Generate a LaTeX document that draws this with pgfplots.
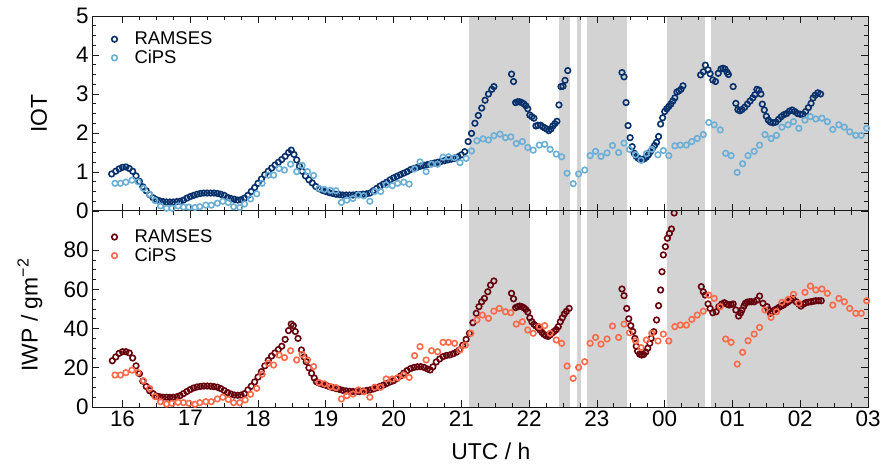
\documentclass[border=0pt]{standalone}
\usepackage{fontspec}
\setmainfont{Liberation Sans}
\usepackage{pgfplots}
\pgfplotsset{compat=1.18}
\definecolor{ramsesblue}{RGB}{8,48,107}
\definecolor{cipsblue}{RGB}{107,174,214}
\definecolor{ramsesred}{RGB}{103,0,13}
\definecolor{cipsred}{RGB}{251,106,74}
\definecolor{shade}{RGB}{211,211,211}
\newcommand\shades[1]{%
\addplot[fill=shade, draw=none, forget plot] coordinates {(21.11,0)(22.02,0)(22.02,#1)(21.11,#1)} -- cycle;
\addplot[fill=shade, draw=none, forget plot] coordinates {(22.44,0)(22.61,0)(22.61,#1)(22.44,#1)} -- cycle;
\addplot[fill=shade, draw=none, forget plot] coordinates {(22.70,0)(22.77,0)(22.77,#1)(22.70,#1)} -- cycle;
\addplot[fill=shade, draw=none, forget plot] coordinates {(22.86,0)(23.44,0)(23.44,#1)(22.86,#1)} -- cycle;
\addplot[fill=shade, draw=none, forget plot] coordinates {(24.03,0)(24.60,0)(24.60,#1)(24.03,#1)} -- cycle;
\addplot[fill=shade, draw=none, forget plot] coordinates {(24.69,0)(27.00,0)(27.00,#1)(24.69,#1)} -- cycle;
}
\pgfplotsset{
  myaxis/.style={
    scale only axis, width=776bp, xmin=15.55, xmax=27,
    xtick={16,...,27}, minor x tick num=3, minor y tick num=3,
    tick align=inside, major tick length=7bp, minor tick length=4bp,
    axis line style={line width=1pt, black!90},
    every tick/.style={black!90, line width=0.8pt},
    axis on top,
    tick label style={font=\fontsize{22.5}{25}\selectfont},
    label style={font=\fontsize{23}{26}\selectfont},
    /pgf/number format/assume math mode=true,
    legend style={draw=none, fill=none, font=\fontsize{18.5}{21}\selectfont, row sep=0bp, inner sep=0bp,
      nodes={inner sep=2bp}},
    legend cell align=left,
  },
  mk/.style={only marks, mark=o, mark size=2.8pt, line width=1.6pt, color=#1,
    legend image code/.code={\draw[##1] plot coordinates {(0bp,0bp)}; \path[use as bounding box, draw=none, fill=none] (-4bp,-0.1bp) rectangle (18bp,0.1bp);}},
}
\begin{document}
\begin{tikzpicture}
\path[use as bounding box] (-92bp,-57bp) rectangle (793bp,407bp);
% ---------------- bottom panel: IWP
\begin{axis}[myaxis, at={(0,0)}, anchor=south west, height=196bp,
  ymin=0, ymax=100, ytick={0,20,40,60,80}, extra y ticks={100}, extra y tick labels={},
  xticklabels={16,17,18,19,20,21,22,23,00,01,02,03},
  xlabel={UTC / h}, xlabel style={at={(axis description cs:0.514,-0.2245)}, anchor=center},
  ylabel={IWP / gm\textsuperscript{−2}}, ylabel style={at={(axis description cs:-0.0799,0.47)}, anchor=center},
  legend style={at={(axis description cs:0.0236,0.915)}, anchor=north west},
]
\shades{100}
\addplot[mk=ramsesred] coordinates {
(15.85,23.6)(15.90,25.5)(15.95,27.4)(16.00,28.2)(16.05,28.2)(16.10,27.6)(16.15,25.0)(16.20,21.0)(16.25,17.0)(16.30,13.2)
(16.35,10.5)(16.40,8.3)(16.45,6.8)(16.50,5.6)(16.55,5.2)(16.60,5.0)(16.65,5.0)(16.70,4.9)(16.75,5.0)(16.80,5.2)
(16.85,5.8)(16.90,6.8)(16.95,7.9)(17.00,8.9)(17.05,9.7)(17.10,10.2)(17.15,10.5)(17.20,10.7)(17.25,10.7)(17.30,10.6)
(17.35,10.4)(17.40,10.1)(17.45,9.4)(17.50,8.4)(17.55,7.4)(17.60,6.6)(17.65,6.1)(17.70,6.0)(17.75,6.1)(17.80,6.8)
(17.85,8.7)(17.90,10.6)(17.95,12.8)(18.00,15.3)(18.05,18.0)(18.10,21.0)(18.15,23.8)(18.20,26.0)(18.25,27.6)(18.30,29.3)
(18.35,31.0)(18.40,34.5)(18.45,39.0)(18.49,42.3)(18.52,41.5)(18.55,38.5)(18.59,35.0)(18.64,29.1)(18.68,25.5)(18.71,23.1)
(18.75,20.0)(18.79,17.2)(18.83,14.8)(18.86,12.9)(18.90,12.2)(18.95,11.6)(19.00,11.1)(19.05,10.4)(19.10,9.9)(19.15,9.4)
(19.20,9.0)(19.25,8.5)(19.30,8.2)(19.35,8.0)(19.40,7.9)(19.45,7.8)(19.50,7.9)(19.55,8.1)(19.60,8.4)(19.65,8.7)
(19.70,9.2)(19.75,9.8)(19.80,10.5)(19.85,11.2)(19.90,12.0)(19.95,12.8)(20.00,13.4)(20.05,14.5)(20.10,15.8)(20.15,17.3)
(20.20,18.6)(20.25,19.6)(20.30,20.2)(20.35,20.5)(20.40,20.6)(20.45,20.2)(20.50,19.4)(20.54,18.9)(20.58,20.5)(20.63,23.0)
(20.68,24.5)(20.73,25.7)(20.78,26.3)(20.83,26.6)(20.88,27.2)(20.93,28.0)(20.97,29.1)(21.02,31.5)(21.07,34.5)(21.12,37.6)
(21.17,43.0)(21.22,47.8)(21.26,51.2)(21.30,53.7)(21.34,55.4)(21.39,58.8)(21.43,62.2)(21.48,64.3)
(21.74,58.0)(21.77,55.2)(21.80,50.7)(21.83,51.2)(21.86,51.5)(21.89,51.2)(21.92,50.7)(21.95,49.8)(21.98,48.5)(22.01,45.5)
(22.04,43.5)(22.07,42.2)(22.10,41.3)(22.13,40.5)(22.16,39.3)(22.19,38.0)(22.22,37.0)(22.25,36.4)(22.28,36.0)(22.31,36.8)
(22.34,37.8)(22.37,38.6)(22.40,39.5)(22.43,41.0)(22.46,43.5)(22.49,45.5)(22.52,47.5)(22.55,48.8)(22.59,50.3)
(23.37,60.2)(23.40,56.8)(23.44,50.3)(23.47,45.0)(23.50,41.5)(23.53,38.5)(23.56,35.0)(23.58,31.0)(23.60,28.5)(23.63,27.0)
(23.66,26.5)(23.69,26.8)(23.72,28.0)(23.75,30.0)(23.78,32.5)(23.80,35.0)(23.84,38.4)(23.88,44.4)(23.91,51.7)(23.94,59.7)
(23.96,69.0)(23.98,77.6)(24.01,81.8)(24.04,86.1)(24.07,88.6)(24.10,90.8)(24.14,99.0)
(24.54,61.4)(24.57,58.8)(24.60,57.1)(24.64,52.6)(24.67,50.3)(24.71,48.1)(24.76,48.6)(24.80,51.2)(24.84,52.5)(24.88,53.2)
(24.92,52.5)(24.95,52.0)(24.98,52.3)(25.01,52.6)(25.05,49.5)(25.09,46.4)(25.12,48.0)(25.14,49.5)(25.17,51.5)(25.19,52.9)
(25.22,53.5)(25.25,53.7)(25.28,53.7)(25.32,53.7)(25.36,54.5)(25.40,56.6)(25.45,52.9)(25.51,51.2)(25.53,49.5)(25.56,47.8)
(25.59,48.5)(25.62,49.5)(25.66,50.2)(25.69,50.9)(25.72,51.5)(25.75,52.0)(25.79,53.0)(25.82,53.7)(25.86,54.5)(25.89,55.4)
(25.94,53.7)(25.98,52.5)(26.01,51.5)(26.05,52.5)(26.08,53.2)(26.12,53.5)(26.16,53.7)(26.20,54.0)(26.23,54.2)(26.27,54.2)(26.31,54.2)
};
\addlegendentry{RAMSES}
\addplot[mk=cipsred] coordinates {
(15.89,16.3)(15.97,16.3)(16.05,17.5)(16.14,18.8)(16.23,17.5)(16.31,13.4)(16.40,9.5)(16.48,5.3)(16.56,2.7)(16.65,1.5)
(16.73,1.9)(16.82,2.4)(16.90,2.2)(16.98,1.9)(17.07,1.4)(17.14,2.2)(17.23,2.7)(17.31,2.7)(17.40,4.1)(17.48,5.0)
(17.56,3.9)(17.64,2.2)(17.73,2.2)(17.81,3.6)(17.89,6.5)(17.98,9.5)(18.06,16.7)(18.15,22.3)(18.23,21.4)(18.31,26.5)
(18.39,25.2)(18.48,28.7)(18.57,24.0)(18.65,26.9)(18.73,24.0)(18.82,20.6)(18.90,12.5)(18.98,11.8)(19.07,10.4)(19.15,9.9)
(19.23,4.1)(19.31,5.8)(19.40,6.6)(19.48,8.7)(19.56,7.8)(19.65,5.0)(19.72,10.1)(19.81,10.1)(19.89,14.3)(19.98,14.3)
(20.06,14.9)(20.15,16.3)(20.23,15.1)(20.31,26.2)(20.39,30.8)(20.48,24.0)(20.56,28.7)(20.65,28.2)(20.73,33.0)(20.81,33.0)
(20.90,32.5)(20.98,29.1)(21.06,31.6)(21.14,37.6)(21.23,44.4)(21.31,46.9)(21.40,45.2)(21.48,48.9)(21.56,50.3)(21.65,48.6)
(21.73,48.1)(21.81,42.3)(21.90,43.5)(21.98,39.3)(22.06,37.6)(22.15,41.0)(22.23,41.5)(22.31,37.6)(22.40,34.2)(22.48,32.5)
(22.56,20.9)(22.65,14.6)(22.73,20.2)(22.82,23.1)(22.90,32.5)(22.98,35.5)(23.06,32.1)(23.15,34.7)(23.23,41.3)(23.32,35.5)
(23.40,42.3)(23.48,37.9)(23.57,33.7)(23.65,30.3)(23.73,34.2)(23.81,37.6)(23.90,33.7)(23.98,37.2)(24.06,33.7)(24.15,41.0)
(24.23,41.8)(24.32,41.8)(24.40,44.7)(24.48,46.9)(24.57,48.9)(24.65,57.1)(24.73,55.4)(24.82,51.2)(24.90,34.7)(24.98,33.0)
(25.07,21.9)(25.15,27.9)(25.23,33.8)(25.32,37.2)(25.40,40.6)(25.48,49.5)(25.57,45.7)(25.65,48.6)(25.73,53.4)(25.82,54.9)
(25.90,57.5)(25.98,52.9)(26.07,58.5)(26.15,61.7)(26.23,59.7)(26.32,60.2)(26.40,58.0)(26.48,52.0)(26.57,55.4)(26.65,53.7)
(26.73,50.3)(26.82,47.8)(26.90,47.8)(26.98,54.2)
};
\addlegendentry{CiPS}
\end{axis}
% ---------------- top panel: IOT
\begin{axis}[myaxis, at={(0,196bp)}, anchor=south west, height=195bp,
  ymin=0, ymax=5, ytick={0,...,5}, xticklabels={},
  ylabel={IOT}, ylabel style={at={(axis description cs:-0.0683,0.5)}, anchor=center},
  legend style={at={(axis description cs:0.0236,0.929)}, anchor=north west},
]
\shades{5}
\addplot[mk=ramsesblue] coordinates {
(15.84,0.95)(15.90,1.02)(15.95,1.08)(16.00,1.12)(16.05,1.13)(16.10,1.09)(16.15,1.02)(16.20,0.90)(16.25,0.76)(16.30,0.62)
(16.35,0.52)(16.40,0.42)(16.45,0.34)(16.50,0.29)(16.55,0.26)(16.60,0.24)(16.65,0.23)(16.70,0.23)(16.75,0.23)(16.80,0.24)
(16.85,0.25)(16.90,0.28)(16.95,0.33)(17.00,0.37)(17.05,0.40)(17.10,0.43)(17.15,0.45)(17.20,0.46)(17.25,0.46)(17.30,0.46)
(17.35,0.46)(17.40,0.45)(17.45,0.43)(17.50,0.40)(17.55,0.35)(17.60,0.32)(17.65,0.30)(17.70,0.28)(17.75,0.29)(17.80,0.33)
(17.85,0.40)(17.90,0.50)(17.95,0.60)(18.00,0.71)(18.05,0.82)(18.10,0.93)(18.15,1.02)(18.20,1.10)(18.25,1.18)(18.30,1.25)
(18.35,1.32)(18.40,1.40)(18.45,1.50)(18.49,1.56)(18.53,1.45)(18.57,1.31)(18.61,1.15)(18.65,1.02)(18.70,0.90)(18.75,0.80)
(18.80,0.72)(18.85,0.63)(18.90,0.57)(18.95,0.53)(19.00,0.50)(19.05,0.47)(19.10,0.45)(19.15,0.43)(19.20,0.42)(19.25,0.41)
(19.30,0.41)(19.35,0.41)(19.40,0.41)(19.45,0.42)(19.50,0.42)(19.55,0.43)(19.60,0.44)(19.65,0.46)(19.70,0.52)(19.75,0.58)
(19.80,0.64)(19.85,0.69)(19.90,0.74)(19.95,0.80)(20.00,0.85)(20.05,0.89)(20.10,0.93)(20.15,0.97)(20.20,1.01)(20.25,1.06)
(20.30,1.09)(20.35,1.12)(20.40,1.15)(20.45,1.17)(20.50,1.19)(20.55,1.21)(20.60,1.23)(20.65,1.25)(20.70,1.27)(20.75,1.29)
(20.80,1.31)(20.85,1.33)(20.90,1.35)(20.95,1.39)(21.00,1.44)(21.05,1.52)(21.10,1.78)(21.15,1.99)(21.20,2.25)(21.25,2.45)
(21.30,2.64)(21.35,2.84)(21.40,3.00)(21.45,3.12)(21.48,3.19)
(21.74,3.51)(21.77,3.32)(21.80,2.78)(21.83,2.80)(21.86,2.80)(21.89,2.78)(21.92,2.75)(21.95,2.70)(21.98,2.62)(22.01,2.46)
(22.04,2.42)(22.07,2.38)(22.10,2.18)(22.13,2.20)(22.17,2.20)(22.20,2.16)(22.23,2.13)(22.26,2.10)(22.29,2.06)(22.32,2.10)
(22.35,2.18)(22.38,2.24)(22.41,2.30)(22.44,2.72)(22.47,3.19)(22.50,3.20)(22.53,3.35)(22.57,3.60)
(23.37,3.55)(23.40,3.44)(23.43,2.78)(23.46,2.19)(23.49,1.88)(23.52,1.65)(23.55,1.48)(23.58,1.40)(23.61,1.35)(23.64,1.33)
(23.67,1.32)(23.70,1.34)(23.73,1.38)(23.76,1.44)(23.79,1.52)(23.82,1.60)(23.85,1.68)(23.88,1.76)(23.91,1.91)(23.94,2.23)
(23.97,2.39)(24.00,2.55)(24.03,2.62)(24.06,2.68)(24.09,2.74)(24.12,2.82)(24.15,2.90)(24.18,3.05)(24.21,3.08)(24.24,3.12)(24.27,3.21)
(24.53,3.49)(24.57,3.57)(24.60,3.74)(24.64,3.62)(24.67,3.52)(24.71,3.36)(24.75,3.32)(24.79,3.53)(24.83,3.64)(24.86,3.66)
(24.89,3.64)(24.92,3.56)(24.94,3.50)(25.01,3.19)(25.05,2.76)(25.08,2.60)(25.11,2.57)(25.14,2.60)(25.18,2.66)(25.22,2.74)
(25.26,2.82)(25.30,2.90)(25.33,2.98)(25.36,3.12)(25.39,3.10)(25.42,3.00)(25.44,2.74)(25.47,2.59)(25.50,2.43)(25.53,2.33)
(25.56,2.28)(25.60,2.26)(25.64,2.28)(25.68,2.35)(25.72,2.42)(25.76,2.47)(25.80,2.50)(25.84,2.56)(25.88,2.59)(25.92,2.55)
(25.96,2.50)(26.00,2.48)(26.04,2.48)(26.08,2.55)(26.12,2.65)(26.16,2.76)(26.19,2.90)(26.22,2.97)(26.26,3.03)(26.30,3.00)
};
\addlegendentry{RAMSES}
\addplot[mk=cipsblue] coordinates {
(15.89,0.71)(15.97,0.71)(16.05,0.74)(16.14,0.79)(16.23,0.75)(16.31,0.58)(16.40,0.43)(16.48,0.27)(16.56,0.13)(16.65,0.07)
(16.73,0.07)(16.82,0.13)(16.90,0.10)(16.98,0.10)(17.07,0.09)(17.14,0.11)(17.23,0.15)(17.31,0.15)(17.40,0.20)(17.48,0.25)
(17.56,0.22)(17.64,0.11)(17.73,0.09)(17.80,0.18)(17.89,0.31)(17.98,0.44)(18.06,0.71)(18.15,0.92)(18.23,0.92)(18.31,1.09)
(18.39,1.05)(18.48,1.20)(18.57,1.01)(18.65,1.17)(18.73,1.01)(18.82,0.91)(18.90,0.58)(18.98,0.55)(19.07,0.53)(19.15,0.52)
(19.23,0.22)(19.31,0.28)(19.40,0.32)(19.48,0.41)(19.56,0.39)(19.65,0.25)(19.72,0.50)(19.81,0.50)(19.89,0.67)(19.98,0.65)
(20.06,0.71)(20.15,0.74)(20.23,0.69)(20.31,1.08)(20.39,1.26)(20.48,1.01)(20.56,1.20)(20.65,1.20)(20.73,1.38)(20.81,1.39)
(20.90,1.37)(20.98,1.24)(21.07,1.35)(21.15,1.54)(21.23,1.80)(21.32,1.85)(21.40,1.82)(21.48,1.93)(21.57,1.97)(21.65,1.88)
(21.73,1.90)(21.81,1.73)(21.90,1.78)(21.98,1.63)(22.06,1.56)(22.15,1.69)(22.23,1.71)(22.31,1.58)(22.40,1.46)(22.48,1.39)
(22.56,0.97)(22.65,0.70)(22.73,0.95)(22.82,1.05)(22.90,1.42)(22.98,1.53)(23.06,1.40)(23.15,1.49)(23.23,1.68)(23.32,1.50)
(23.40,1.74)(23.48,1.58)(23.57,1.44)(23.65,1.30)(23.73,1.47)(23.81,1.58)(23.90,1.44)(23.98,1.55)(24.06,1.42)(24.15,1.67)
(24.23,1.69)(24.32,1.69)(24.40,1.78)(24.48,1.86)(24.57,1.96)(24.65,2.27)(24.73,2.21)(24.82,2.08)(24.90,1.48)(24.98,1.42)
(25.07,0.99)(25.15,1.21)(25.23,1.42)(25.32,1.53)(25.40,1.69)(25.48,1.96)(25.57,1.86)(25.65,1.94)(25.73,2.15)(25.82,2.21)
(25.90,2.29)(25.98,2.12)(26.07,2.33)(26.15,2.42)(26.23,2.36)(26.32,2.38)(26.40,2.29)(26.48,2.09)(26.57,2.21)(26.65,2.15)
(26.73,2.03)(26.82,1.94)(26.90,1.94)(26.98,2.12)
};
\addlegendentry{CiPS}
\end{axis}
\end{tikzpicture}
\end{document}
